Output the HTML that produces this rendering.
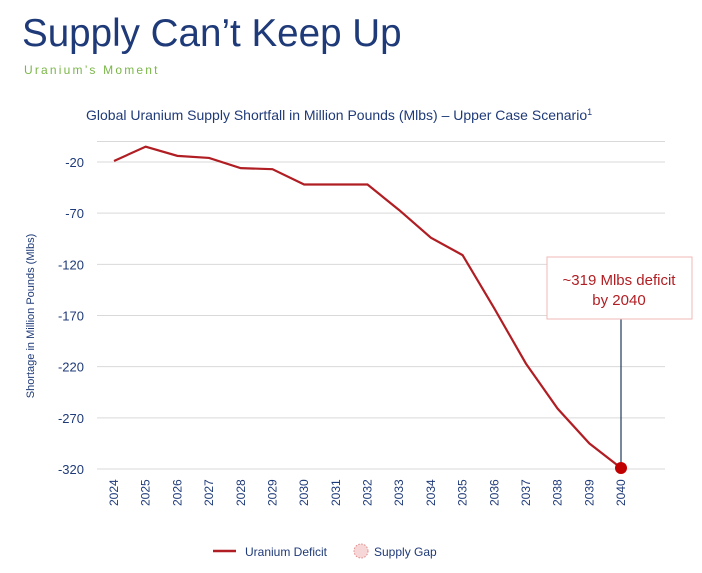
<!DOCTYPE html>
<html><head><meta charset="utf-8"><style>
body{margin:0;background:#fff;width:702px;height:568px;overflow:hidden;font-family:"Liberation Sans",sans-serif}
</style></head><body>
<svg width="702" height="568">
<text x="22" y="46" font-size="38.6" fill="#1f3a78">Supply Can’t Keep Up</text>
<text x="24" y="74" font-size="12" fill="#7ab648" letter-spacing="2.2">Uranium’s Moment</text>
<text x="86" y="120" font-size="14" fill="#1f3a78">Global Uranium Supply Shortfall in Million Pounds (Mlbs) – Upper Case Scenario<tspan font-size="9" dy="-5">1</tspan></text>
<text transform="translate(34,316) rotate(-90)" text-anchor="middle" font-size="11" fill="#1f3a78">Shortage in Million Pounds (Mlbs)</text>
<g id="grid"></g><g id="yt"></g><g id="xt"></g>
<path id="line" fill="none" stroke="#b01e23" stroke-width="2.2"/>
<g id="ann"></g>
<g>
<line x1="213" y1="551" x2="236" y2="551" stroke="#b01e23" stroke-width="2.5"/>
<text x="245" y="556" font-size="12" fill="#1f3a78">Uranium Deficit</text>
<circle cx="361" cy="551" r="7" fill="#f6d6d6" stroke="#e08a8a" stroke-dasharray="1.5,1.5"/>
<text x="374" y="556" font-size="12" fill="#1f3a78">Supply Gap</text>
</g>
</svg>
<script>
const years=[2024,2025,2026,2027,2028,2029,2030,2031,2032,2033,2034,2035,2036,2037,2038,2039,2040];
const deficit=[-19,-5,-14,-16,-26,-27,-42,-42,-42,-67,-94,-111,-163,-217,-261,-295,-319];
const yTicks=[-20,-70,-120,-170,-220,-270,-320];
const NS="http://www.w3.org/2000/svg";
const x=i=>114+i*(621-114)/(years.length-1);
const y=v=>162+(-20-v)*(469-162)/300;
function el(t,a,p){const e=document.createElementNS(NS,t);for(const k in a)e.setAttribute(k,a[k]);document.getElementById(p).appendChild(e);return e;}
[0,...yTicks.slice(0,-1)].forEach(v=>{const g=el('line',{x1:97,x2:665,y1:y(v),y2:y(v),stroke:'#d9d9d9','stroke-width':1},'grid');

});
el('line',{x1:97,x2:665,y1:y(-320),y2:y(-320),stroke:'#d9d9d9'},'grid');
yTicks.forEach(v=>{const t=el('text',{x:84,y:y(v)+5,'text-anchor':'end','font-size':13,fill:'#1f3a78'},'yt');t.textContent=v;

});
years.forEach((yr,i)=>{const t=el('text',{transform:`translate(${x(i)+4},${506}) rotate(-90)`,'font-size':12,fill:'#1f3a78'},'xt');t.textContent=yr;

});
document.getElementById('line').setAttribute('d',deficit.map((v,i)=>(i?'L':'M')+x(i)+','+y(v)).join(''));
const li=years.length-1;
const c=el('line',{x1:x(li),x2:x(li),y1:319,y2:y(deficit[li]),stroke:'#1f3a58','stroke-width':1.2},'ann');


const b=el('rect',{x:547,y:257,width:145,height:62,fill:'#fff',stroke:'#f2b8b8'},'ann');


const t1=el('text',{x:619,y:285,'text-anchor':'middle','font-size':15,fill:'#b01e23'},'ann');t1.textContent='~319 Mlbs deficit';


const t2=el('text',{x:619,y:305,'text-anchor':'middle','font-size':15,fill:'#b01e23'},'ann');t2.textContent='by 2040';


const d=el('circle',{cx:x(li),cy:y(deficit[li]),r:6,fill:'#c00000'},'ann');


</script>
</body></html>
